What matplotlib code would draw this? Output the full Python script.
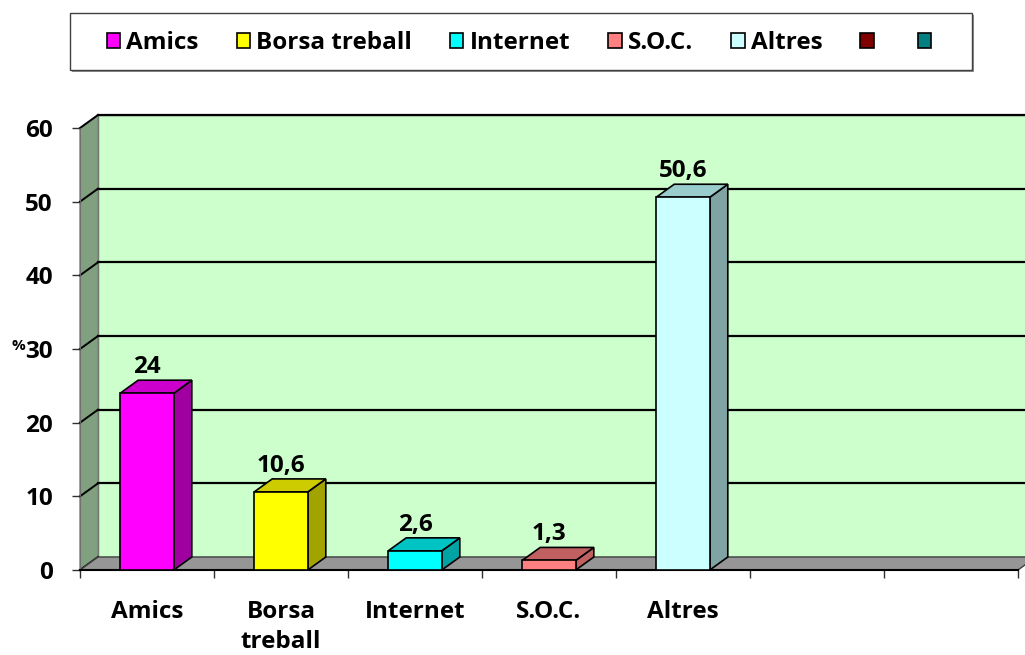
import matplotlib
matplotlib.use("Agg")
import matplotlib.pyplot as plt
from matplotlib.patches import Polygon, Rectangle
from matplotlib.lines import Line2D
import numpy as np

# ---------------- data ----------------
categories = ['Amics', 'Borsa treball', 'Internet', 'S.O.C.', 'Altres', '', '']
tick_labels = ['Amics', 'Borsa\ntreball', 'Internet', 'S.O.C.', 'Altres', '', '']
values = [24, 10.6, 2.6, 1.3, 50.6, None, None]
front_colors = ['#FF00FF', '#FFFF00', '#00FFFF', '#FF8080', '#CCFFFF', '#800000', '#008080']
top_colors = ['#CC00CC', '#CCCC00', '#00C4C4', '#C06060', '#99CCCC', '#660000', '#006666']
side_colors = ['#A000A0', '#A3A300', '#00A3A3', '#C06060', '#80A3A3', '#500000', '#005050']
y_ticks = [0, 10, 20, 30, 40, 50, 60]

plt.rcParams['font.family'] = ['Open Sans', 'DejaVu Sans']
plt.rcParams['font.weight'] = 'bold'
FS = 17.5

W, H = 1025, 655
fig = plt.figure(figsize=(W / 100, H / 100), dpi=100)

# front plane of the 3D chart (pixels: x 80..1018, y 128..570)
ax = fig.add_axes([80 / W, (H - 570) / H, 938 / W, 442 / H])
ax.set_xlim(-0.5, len(categories) - 0.5)
ax.set_ylim(0, 60)
ax.patch.set_visible(False)
fig.canvas.draw()

# depth offset (18 px right, 13 px up) converted into data units
inv = ax.transData.inverted()
p0 = ax.transData.transform((0, 0))
p1 = inv.transform((p0[0] + 18, p0[1] + 13))
dx, dy = p1[0], p1[1]

x0, x1 = -0.5, len(categories) - 0.5
ymax = 60

# back wall
ax.add_patch(Polygon([(x0 + dx, dy), (x1 + dx + 1, dy), (x1 + dx + 1, ymax + dy), (x0 + dx, ymax + dy)],
                     closed=True, facecolor='#CCFFCC', edgecolor='#606060', lw=1, clip_on=False, zorder=0.5))
# left wall
ax.add_patch(Polygon([(x0, 0), (x0 + dx, dy), (x0 + dx, ymax + dy), (x0, ymax)],
                     closed=True, facecolor='#80A080', edgecolor='#808080', lw=1, clip_on=False, zorder=0.6))
# gridlines on walls
for v in y_ticks:
    if v > 0:
        ax.add_line(Line2D([x0 + dx, x1 + dx + 1], [v + dy, v + dy], color='black', lw=1.6,
                           clip_on=False, zorder=0.7))
    ax.add_line(Line2D([x0, x0 + dx], [v, v + dy], color='black', lw=1.4, clip_on=False, zorder=0.8))
# floor
ax.add_patch(Polygon([(x0, 0), (x1, 0), (x1 + dx, dy), (x0 + dx, dy)],
                     closed=True, facecolor='#969696', edgecolor='#404040', lw=1, clip_on=False, zorder=0.9))

# bars
bw = 0.40
xs = np.arange(len(categories))
for i, (x, v) in enumerate(zip(xs, values)):
    if v is None:
        continue
    ax.bar(x, v, width=bw, color=front_colors[i], edgecolor='black', linewidth=1.2, zorder=3)
    xl, xr = x - bw / 2, x + bw / 2
    ax.add_patch(Polygon([(xr, 0), (xr + dx, dy), (xr + dx, v + dy), (xr, v)], closed=True,
                         facecolor=side_colors[i], edgecolor='black', lw=1.2, clip_on=False, zorder=2.9))
    ax.add_patch(Polygon([(xl, v), (xl + dx, v + dy), (xr + dx, v + dy), (xr, v)], closed=True,
                         facecolor=top_colors[i], edgecolor='black', lw=1.2, clip_on=False, zorder=2.9))
    ax.annotate(f"{v:g}".replace('.', ','), xy=(x, v + dy), xytext=(0, 9.5), textcoords='offset points',
                ha='center', va='center', fontsize=FS, fontweight='bold', zorder=4, annotation_clip=False)

# axes / ticks
for s in ['top', 'right']:
    ax.spines[s].set_visible(False)
ax.spines['left'].set_color('#707070')
ax.spines['bottom'].set_color('black')
ax.spines['bottom'].set_linewidth(1.5)
ax.spines['left'].set_zorder(1)
ax.spines['bottom'].set_zorder(2)

ax.set_yticks(y_ticks)
ax.set_yticklabels([str(t) for t in y_ticks], fontsize=FS, fontweight='bold')
ax.tick_params(axis='y', length=6, width=1, color='#303030', pad=13.5)

ax.set_xticks(np.arange(len(categories) + 1) - 0.5)
ax.set_xticklabels([])
ax.tick_params(axis='x', which='major', length=6, width=1, color='#303030')
ax.set_xticks(xs, minor=True)
ax.set_xticklabels(tick_labels, minor=True, fontsize=FS, fontweight='bold', linespacing=1.35)
ax.tick_params(axis='x', which='minor', length=0, pad=21.5)

fig.text(18 / W, 1 - 346 / H, '%', fontsize=11, fontweight='bold', ha='center', va='center')

# legend
handles = [Rectangle((0, 0), 1, 1, facecolor=c, edgecolor='black', lw=1.2) for c in front_colors]
fig.legend(handles, categories, ncol=len(categories), loc='center', bbox_to_anchor=(522 / W, 1 - 43 / H),
           frameon=False, prop={'weight': 'bold', 'size': FS},
           handlelength=0.55, handleheight=0.55, handletextpad=0.25, columnspacing=1.57)
fig.patches.append(Rectangle((72 / W, 1 - 72 / H), 902 / W, 57 / H, transform=fig.transFigure,
                             facecolor='#909090', edgecolor='none', zorder=0))
fig.patches.append(Rectangle((70 / W, 1 - 70 / H), 902 / W, 57 / H, transform=fig.transFigure,
                             facecolor='white', edgecolor='#404040', lw=1, zorder=0.5))

fig.savefig('out.png', dpi=100)
